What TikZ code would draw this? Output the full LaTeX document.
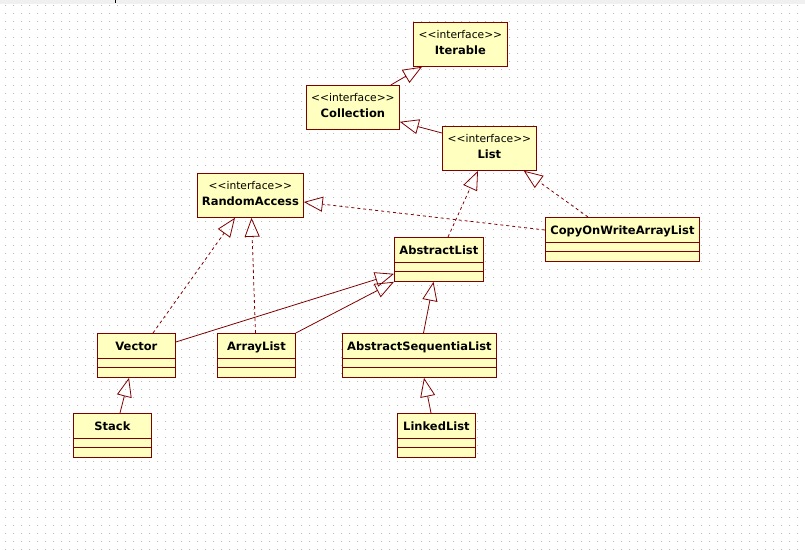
\documentclass[tikz,border=0pt]{standalone}
\usepackage{fontspec}
\newfontfamily\umlfont{DejaVu Sans}
\usetikzlibrary{arrows.meta}
\definecolor{umlred}{RGB}{128,0,0}
\definecolor{umlfill}{RGB}{255,255,192}
\definecolor{griddot}{RGB}{190,190,190}

\begin{document}
\begin{tikzpicture}[x=1pt, y=-1pt,
    classbox/.style={draw=umlred, fill=umlfill, line width=0.8pt, anchor=north west, inner sep=0pt, minimum height=44pt},
    classname/.style={font=\umlfont\fontsize{11.5}{13}\selectfont\bfseries, inner sep=0pt, anchor=base},
    stereo/.style={font=\umlfont\fontsize{10.7}{12}\selectfont, inner sep=0pt, anchor=base},
    generalize/.style={umlred, line width=0.8pt, -{Triangle[open, length=19pt, width=15pt]}},
    realize/.style={generalize, dash pattern=on 3pt off 3pt}]
        % canvas
        \fill[white] (0,0) rectangle (805,550);
        \useasboundingbox (0,0) rectangle (805,550);
        \fill[black!6] (0,0) rectangle (805,4);
        \draw[black, line width=0.8pt] (115,0) -- (115,3);
        \foreach \j in {0,...,68}
            \draw[griddot, line width=1pt, dash pattern=on 1pt off 7pt] (4.5,{5+8*\j}) -- (798,{5+8*\j});

        % interfaces
        \foreach \n/\x/\y/\w/\t in {iterable/413/22/94/Iterable, collection/306/85/93/Collection, list/442/126/94/List, randacc/197/173/106/RandomAccess}
        {
            \node[classbox, minimum width=\w pt] (\n) at (\x,\y) {};
            \node[stereo] (\n-st) at ([yshift=-16pt]\n.north) {<<interface>>};
            \node[classname] (\n-name) at ([yshift=-32.5pt]\n.north) {\t};
        }

        % classes
        \foreach \n/\x/\y/\w/\t in {abslist/394/237/89/AbstractList, cow/545/217/154/CopyOnWriteArrayList, vector/97/333/78/Vector, arraylist/217/333/78/ArrayList, absseq/342/333/154/AbstractSequentiaList, stack/73/413/78/Stack, linkedlist/397/413/78/LinkedList}
        {
            \node[classbox, minimum width=\w pt] (\n) at (\x,\y) {};
            \node[classname] (\n-name) at ([yshift=-17.5pt]\n.north) {\t};
            \draw[umlred, line width=0.8pt] ([yshift=-25pt]\n.north west) -- ([yshift=-25pt]\n.north east)
                ([yshift=-34.5pt]\n.north west) -- ([yshift=-34.5pt]\n.north east);
        }

        % generalizations and realizations
        \draw[generalize] ([xshift=-9pt]collection.north east) -- ([xshift=9pt]iterable.south west);
        \draw[generalize] ([yshift=-7pt]list.north west) -- ([yshift=8pt]collection.south east);
        \draw[realize] ([xshift=54pt]abslist.north west) -- ([xshift=36pt]list.south west);
        \draw[realize] ([xshift=43pt]cow.north west) -- ([xshift=-13pt]list.south east);
        \draw[realize] ([yshift=-13pt]cow.north west) -- ([yshift=-29pt]randacc.north east);
        \draw[realize] ([xshift=56pt]vector.north west) -- ([xshift=38pt]randacc.south west);
        \draw[realize] ([xshift=38.5pt]arraylist.north west) -- ([xshift=54.5pt]randacc.south west);
        \draw[generalize] ([yshift=-9pt]vector.north east) -- ([yshift=8pt]abslist.south west);
        \draw[generalize] (arraylist.north east) -- (abslist.south west);
        \draw[generalize] ([xshift=81.5pt]absseq.north west) -- ([xshift=39.5pt]abslist.south west);
        \draw[generalize] ([xshift=47pt]stack.north west) -- ([xshift=32pt]vector.south west);
        \draw[generalize] ([xshift=34pt]linkedlist.north west) -- ([xshift=82pt]absseq.south west);
    \end{tikzpicture}
\end{document}
